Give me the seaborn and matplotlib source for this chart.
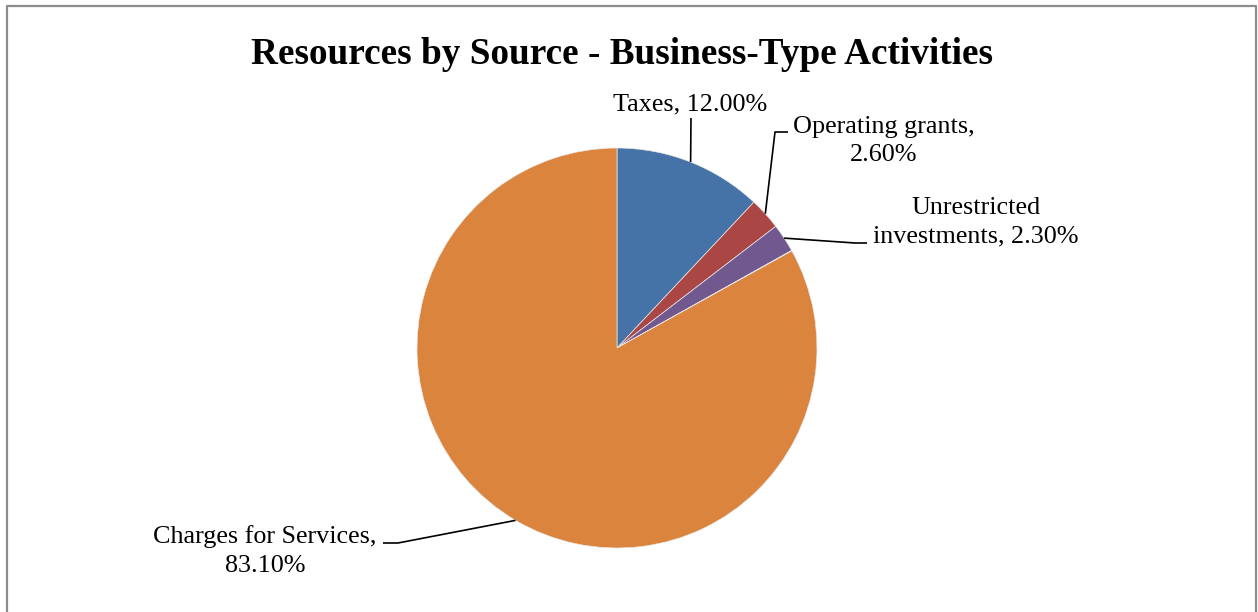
import numpy as np
import matplotlib
matplotlib.use("Agg")
import matplotlib.pyplot as plt
import seaborn as sb

sb.set_theme(style="white")
plt.rcParams['font.family'] = ['Liberation Serif', 'DejaVu Serif']

# data (percent of resources)
categories = ["Taxes", "Operating grants", "Unrestricted investments", "Other", "Charges for Services"]
shares = [12.00, 2.60, 2.30, 0.04, 83.10]
label_texts = ["Taxes, 12.00%", "Operating grants,\n2.60%", "Unrestricted\ninvestments, 2.30%", "",
               "Charges for Services,\n83.10%"]
colors = ["#4572A7", "#AA4643", "#71588F", "#4198AF", "#DB843D"]

W, H = 1258, 612
fig = plt.figure(figsize=(W / 100, H / 100), dpi=100)
ax = fig.add_axes([0, 0, 1, 1])

cx, cy, r = 617, H - 348, 200
wedges, _ = ax.pie(shares, colors=colors, startangle=90, counterclock=False,
                   center=(cx, cy), radius=r,
                   wedgeprops=dict(edgecolor="#e8e8e8", linewidth=0.5))
ax.set_xlim(0, W)
ax.set_ylim(0, H)
ax.set_aspect('equal')
ax.axis('off')

# label placement (pixel coords from top-left): text centre, leader path points
label_pos = {
    "Taxes": ((690, 104), [(691, 118)]),
    "Operating grants": ((884, 141), [(775, 132), (788, 132)]),
    "Unrestricted investments": ((976, 222), [(855, 243), (867, 243)]),
    "Charges for Services": ((265, 551), [(398, 543), (383, 543)]),
}

for w, cat, txt in zip(wedges, categories, label_texts):
    if cat not in label_pos:
        continue
    mid = np.deg2rad((w.theta1 + w.theta2) / 2)
    ex, ey = cx + r * np.cos(mid), cy + r * np.sin(mid)
    (tx, ty), path = label_pos[cat]
    xs = [ex] + [p[0] for p in path]
    ys = [ey] + [H - p[1] for p in path]
    ax.plot(xs, ys, color="black", lw=1.2, solid_capstyle="butt")
    ax.text(tx, H - ty, txt, ha="center", va="center", fontsize=18.8,
            color="black", linespacing=1.4)

ax.text(622, H - 54, "Resources by Source - Business-Type Activities",
        ha="center", va="center", fontsize=26.8, fontweight="bold", color="black")

# chart area border (bottom edge falls outside the image)
ax.plot([7, 7, 1256, 1256], [-5, H - 6, H - 6, -5], color="#8c8c8c", lw=1.6,
        clip_on=False)

fig.savefig("out.png", dpi=100)
